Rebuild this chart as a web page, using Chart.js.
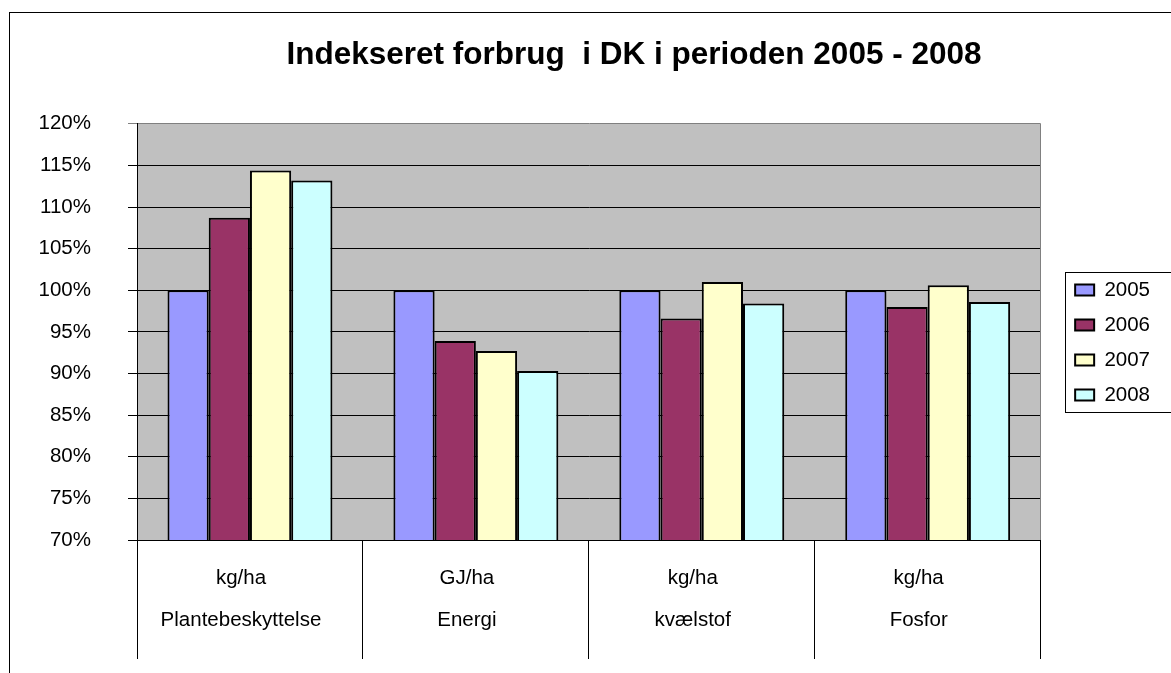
<!DOCTYPE html>
<html>
<head>
<meta charset="utf-8">
<script src="https://cdn.jsdelivr.net/npm/chart.js@4/dist/chart.umd.min.js"></script>
<style>
  html, body { margin: 0; padding: 0; background: #fff; }
  canvas { display: block; }
</style>
</head>
<body>
<canvas id="chart" width="1171" height="673"></canvas>
<script>
// Kategorier (enhed + navn) og indeks pr. år
const categories = [
    ['kg/ha', 'Plantebeskyttelse'],
    ['GJ/ha', 'Energi'],
    ['kg/ha', 'kvælstof'],
    ['kg/ha', 'Fosfor']
];
const years = ['2005', '2006', '2007', '2008'];
const values2005 = [100, 100, 100, 100];
const values2006 = [108.7, 93.9, 96.6, 98.0];
const values2007 = [114.4, 92.7, 101.0, 100.6];
const values2008 = [113.2, 90.3, 98.4, 98.6];
const colors = ['#9999ff', '#993366', '#ffffcc', '#ccffff'];

const FONT = "'Liberation Sans', Arial, sans-serif";

// Grå plotflade, rammer og legend-boks
const frame = {
    id: 'frame',
    afterLayout(chart) {
        const t = chart.titleBlock;
        const d = 634 - (t.left + t.right) / 2;
        t.left += d;
        t.right += d;

        const lg = chart.legend;
        lg.left = chart.chartArea.right + 20;
        lg.right = chart.width;
    },
    beforeDraw(chart) {
        const {ctx, chartArea: a} = chart;
        ctx.save();
        ctx.fillStyle = '#ffffff';
        ctx.fillRect(0, 0, chart.width, chart.height);
        ctx.fillStyle = '#c0c0c0';
        ctx.fillRect(a.left, a.top, a.right - a.left, a.bottom - a.top);
        ctx.restore();
    },
    afterDraw(chart) {
        const {ctx, chartArea: a} = chart;
        ctx.save();
        ctx.lineWidth = 1;

        // højre kant af plotfladen
        ctx.strokeStyle = '#808080';
        ctx.beginPath();
        ctx.moveTo(Math.round(a.right) - 0.5, a.top);
        ctx.lineTo(Math.round(a.right) - 0.5, a.bottom);
        ctx.stroke();

        // ramme om forklaringen
        const boxes = chart.legend.legendHitBoxes;
        if (boxes && boxes.length) {
            const first = boxes[0];
            const last = boxes[boxes.length - 1];
            const x = Math.round(first.left - 10) + 0.5;
            const y = Math.round(first.top - 8) + 0.5;
            const h = Math.round(last.top + last.height + 7) - y + 0.5;
            ctx.strokeStyle = '#000';
            ctx.strokeRect(x, y, chart.width + 20 - x, h);
        }

        // ydre ramme om diagrammet
        ctx.strokeStyle = '#000';
        ctx.strokeRect(9.5, 12.5, chart.width + 20, chart.height + 20);
        ctx.restore();
    }
};

const datasets = [values2005, values2006, values2007, values2008].map((vals, i) => ({
    label: years[i],
    data: vals,
    backgroundColor: colors[i],
    borderColor: '#000',
    borderWidth: 2,
    categoryPercentage: 0.73,
    barPercentage: 1.0
}));

new Chart(document.getElementById('chart'), {
    type: 'bar',
    data: {
        labels: categories,
        datasets: datasets
    },
    options: {
        responsive: false,
        animation: false,
        layout: {
            padding: { left: 10, top: 12, right: 31, bottom: 0 }
        },
        plugins: {
            title: {
                display: true,
                text: 'Indekseret forbrug  i DK i perioden 2005 - 2008',
                color: '#000',
                font: { family: FONT, size: 31.5, weight: 'bold', lineHeight: 1.2 },
                padding: { top: 24, bottom: 50 }
            },
            legend: {
                display: true,
                position: 'right',
                labels: {
                    color: '#000',
                    font: { family: FONT, size: 20.5 },
                    boxWidth: 19,
                    boxHeight: 11,
                    padding: 14.5
                }
            },
            tooltip: { enabled: false }
        },
        scales: {
            x: {
                offset: true,
                grid: {
                    offset: true,
                    drawOnChartArea: false,
                    drawTicks: true,
                    tickLength: 119,
                    color: '#000'
                },
                border: { color: '#000' },
                ticks: {
                    color: '#000',
                    font: { family: FONT, size: 20.5, lineHeight: 2.05 },
                    padding: -102,
                    labelOffset: -9,
                    maxRotation: 0,
                    autoSkip: false
                },
                afterFit(scale) {
                    scale.height = 133;
                }
            },
            y: {
                min: 70,
                max: 120,
                ticks: {
                    stepSize: 5,
                    color: '#000',
                    padding: 37,
                    font: { family: FONT, size: 20.5 },
                    callback: v => v + '%'
                },
                grid: {
                    tickLength: 9,
                    color: ctx => (ctx.tick && ctx.tick.value === 120) ? '#808080' : '#000'
                },
                border: { color: '#000' },
                afterFit(scale) {
                    scale.width = 127;
                }
            }
        }
    },
    plugins: [frame]
});
</script>
</body>
</html>
